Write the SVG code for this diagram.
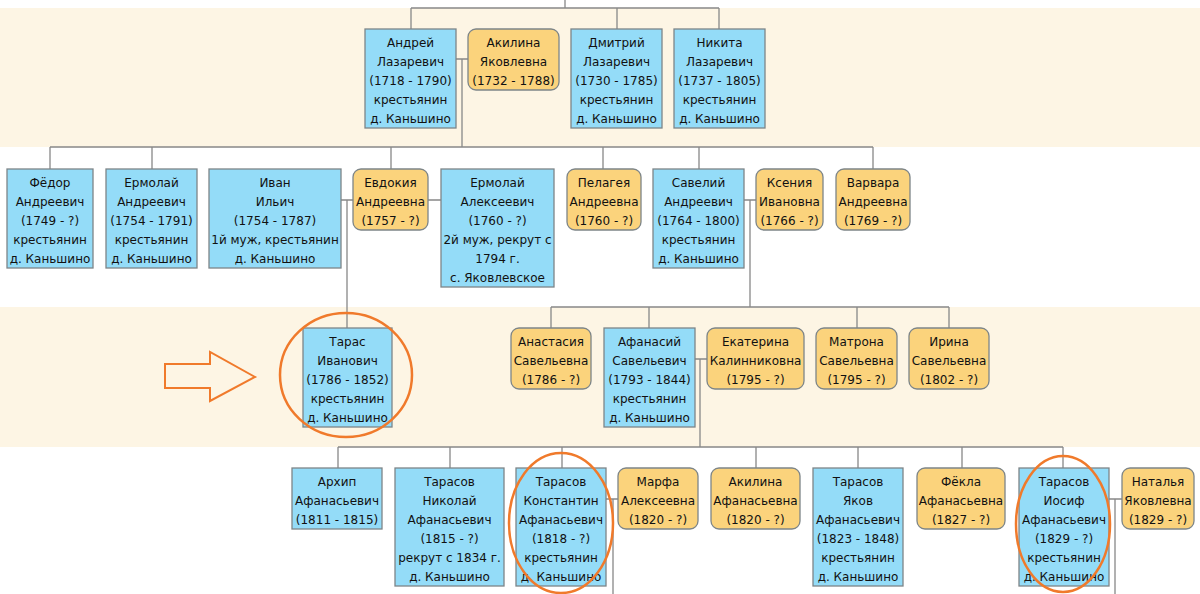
<svg xmlns="http://www.w3.org/2000/svg" width="1200" height="594" viewBox="0 0 1200 594">
<style>
.band{fill:#fdf5e4}
.m{fill:#94dcf8;stroke:#7d8588;stroke-width:1.3}
.f{fill:#fbd37c;stroke:#7d8588;stroke-width:1.3}
.c{fill:none;stroke:#888;stroke-width:1.3}
.hl{fill:none;stroke:#f07a2b;stroke-width:2.5}
text{font-family:"DejaVu Sans","Liberation Sans",sans-serif;font-size:12px;fill:#111;text-anchor:middle}
</style>
<rect class="band" x="0" y="8" width="1200" height="139"/>
<rect class="band" x="0" y="307" width="1200" height="140"/>
<g id="connectors">
<path class="c" d="M565 0V8M411 8H719M411 8V29M617 8V29M719 8V29"/>
<path class="c" d="M456 59H468M462 59V147M50 147H873M50 147V169M152 147V169M391 147V169M603 147V169M699 147V169M873 147V169"/>
<path class="c" d="M341 200H353M347 200V328M428 200H441M744 200H756M750 200V307"/>
<path class="c" d="M551 307H949M551 307V328M649 307V328M857 307V328M949 307V328"/>
<path class="c" d="M695 359H707M700 359V447M338 447H1063M338 447V468M450 447V468M562 447V468M756 447V468M858 447V468M962 447V468M1063 447V468"/>
<path class="c" d="M606 499H618M613 499V594M1109 499H1122M1115 499V594"/>
</g>
<g id="n-andrey"><rect class="m" x="365" y="29" width="91" height="99"/><text x="410.5" y="47">Андрей</text><text x="410.5" y="66">Лазаревич</text><text x="410.5" y="85">(1718 - 1790)</text><text x="410.5" y="104">крестьянин</text><text x="410.5" y="123">д. Каньшино</text></g>
<g id="n-akilina1"><rect class="f" x="468" y="29" width="91" height="61" rx="8"/><text x="513.5" y="47">Акилина</text><text x="513.5" y="66">Яковлевна</text><text x="513.5" y="85">(1732 - 1788)</text></g>
<g id="n-dmitry"><rect class="m" x="571" y="29" width="91" height="99"/><text x="616.5" y="47">Дмитрий</text><text x="616.5" y="66">Лазаревич</text><text x="616.5" y="85">(1730 - 1785)</text><text x="616.5" y="104">крестьянин</text><text x="616.5" y="123">д. Каньшино</text></g>
<g id="n-nikita"><rect class="m" x="674" y="29" width="91" height="99"/><text x="719.5" y="47">Никита</text><text x="719.5" y="66">Лазаревич</text><text x="719.5" y="85">(1737 - 1805)</text><text x="719.5" y="104">крестьянин</text><text x="719.5" y="123">д. Каньшино</text></g>

<g id="n-fedor"><rect class="m" x="7" y="169" width="86" height="99"/><text x="50" y="187">Фёдор</text><text x="50" y="206">Андреевич</text><text x="50" y="225">(1749 - ?)</text><text x="50" y="244">крестьянин</text><text x="50" y="263">д. Каньшино</text></g>
<g id="n-ermolay1"><rect class="m" x="106" y="169" width="91" height="99"/><text x="151.5" y="187">Ермолай</text><text x="151.5" y="206">Андреевич</text><text x="151.5" y="225">(1754 - 1791)</text><text x="151.5" y="244">крестьянин</text><text x="151.5" y="263">д. Каньшино</text></g>
<g id="n-ivan"><rect class="m" x="209" y="169" width="132" height="99"/><text x="275" y="187">Иван</text><text x="275" y="206">Ильич</text><text x="275" y="225">(1754 - 1787)</text><text x="275" y="244">1й муж, крестьянин</text><text x="275" y="263">д. Каньшино</text></g>
<g id="n-evdokia"><rect class="f" x="353" y="169" width="75" height="61" rx="8"/><text x="390.5" y="187">Евдокия</text><text x="390.5" y="206">Андреевна</text><text x="390.5" y="225">(1757 - ?)</text></g>
<g id="n-ermolay2"><rect class="m" x="441" y="169" width="113" height="118"/><text x="497.5" y="187">Ермолай</text><text x="497.5" y="206">Алексеевич</text><text x="497.5" y="225">(1760 - ?)</text><text x="497.5" y="244">2й муж, рекрут с</text><text x="497.5" y="263">1794 г.</text><text x="497.5" y="282">с. Яковлевское</text></g>
<g id="n-pelageya"><rect class="f" x="567" y="169" width="74" height="61" rx="8"/><text x="604" y="187">Пелагея</text><text x="604" y="206">Андреевна</text><text x="604" y="225">(1760 - ?)</text></g>
<g id="n-saveliy"><rect class="m" x="653" y="169" width="91" height="99"/><text x="698.5" y="187">Савелий</text><text x="698.5" y="206">Андреевич</text><text x="698.5" y="225">(1764 - 1800)</text><text x="698.5" y="244">крестьянин</text><text x="698.5" y="263">д. Каньшино</text></g>
<g id="n-kseniya"><rect class="f" x="756" y="169" width="67" height="61" rx="8"/><text x="789.5" y="187">Ксения</text><text x="789.5" y="206">Ивановна</text><text x="789.5" y="225">(1766 - ?)</text></g>
<g id="n-varvara"><rect class="f" x="836" y="169" width="74" height="61" rx="8"/><text x="873" y="187">Варвара</text><text x="873" y="206">Андреевна</text><text x="873" y="225">(1769 - ?)</text></g>

<g id="n-taras"><rect class="m" x="303" y="328" width="89" height="99"/><text x="347.5" y="346">Тарас</text><text x="347.5" y="365">Иванович</text><text x="347.5" y="384">(1786 - 1852)</text><text x="347.5" y="403">крестьянин</text><text x="347.5" y="422">д. Каньшино</text></g>
<g id="n-anastasia"><rect class="f" x="511" y="328" width="80" height="61" rx="8"/><text x="551" y="346">Анастасия</text><text x="551" y="365">Савельевна</text><text x="551" y="384">(1786 - ?)</text></g>
<g id="n-afanasiy"><rect class="m" x="604" y="328" width="91" height="99"/><text x="649.5" y="346">Афанасий</text><text x="649.5" y="365">Савельевич</text><text x="649.5" y="384">(1793 - 1844)</text><text x="649.5" y="403">крестьянин</text><text x="649.5" y="422">д. Каньшино</text></g>
<g id="n-ekaterina"><rect class="f" x="707" y="328" width="97" height="61" rx="8"/><text x="755.5" y="346">Екатерина</text><text x="755.5" y="365">Калинниковна</text><text x="755.5" y="384">(1795 - ?)</text></g>
<g id="n-matrona"><rect class="f" x="816" y="328" width="81" height="61" rx="8"/><text x="856.5" y="346">Матрона</text><text x="856.5" y="365">Савельевна</text><text x="856.5" y="384">(1795 - ?)</text></g>
<g id="n-irina"><rect class="f" x="909" y="328" width="80" height="61" rx="8"/><text x="949" y="346">Ирина</text><text x="949" y="365">Савельевна</text><text x="949" y="384">(1802 - ?)</text></g>

<g id="n-arkhip"><rect class="m" x="292" y="468" width="90" height="61"/><text x="337" y="486">Архип</text><text x="337" y="505">Афанасьевич</text><text x="337" y="524">(1811 - 1815)</text></g>
<g id="n-nikolay"><rect class="m" x="395" y="468" width="109" height="118"/><text x="449.5" y="486">Тарасов</text><text x="449.5" y="505">Николай</text><text x="449.5" y="524">Афанасьевич</text><text x="449.5" y="543">(1815 - ?)</text><text x="449.5" y="562">рекрут с 1834 г.</text><text x="449.5" y="581">д. Каньшино</text></g>
<g id="n-konstantin"><rect class="m" x="516" y="468" width="90" height="118"/><text x="561" y="486">Тарасов</text><text x="561" y="505">Константин</text><text x="561" y="524">Афанасьевич</text><text x="561" y="543">(1818 - ?)</text><text x="561" y="562">крестьянин</text><text x="561" y="581">д. Каньшино</text></g>
<g id="n-marfa"><rect class="f" x="618" y="468" width="80" height="61" rx="8"/><text x="658" y="486">Марфа</text><text x="658" y="505">Алексеевна</text><text x="658" y="524">(1820 - ?)</text></g>
<g id="n-akilina2"><rect class="f" x="711" y="468" width="89" height="61" rx="8"/><text x="755.5" y="486">Акилина</text><text x="755.5" y="505">Афанасьевна</text><text x="755.5" y="524">(1820 - ?)</text></g>
<g id="n-yakov"><rect class="m" x="813" y="468" width="90" height="118"/><text x="858" y="486">Тарасов</text><text x="858" y="505">Яков</text><text x="858" y="524">Афанасьевич</text><text x="858" y="543">(1823 - 1848)</text><text x="858" y="562">крестьянин</text><text x="858" y="581">д. Каньшино</text></g>
<g id="n-fekla"><rect class="f" x="917" y="468" width="88" height="61" rx="8"/><text x="961" y="486">Фёкла</text><text x="961" y="505">Афанасьевна</text><text x="961" y="524">(1827 - ?)</text></g>
<g id="n-iosif"><rect class="m" x="1019" y="468" width="90" height="118"/><text x="1064" y="486">Тарасов</text><text x="1064" y="505">Иосиф</text><text x="1064" y="524">Афанасьевич</text><text x="1064" y="543">(1829 - ?)</text><text x="1064" y="562">крестьянин</text><text x="1064" y="581">д. Каньшино</text></g>
<g id="n-natalya"><rect class="f" x="1122" y="468" width="72" height="61" rx="8"/><text x="1158" y="486">Наталья</text><text x="1158" y="505">Яковлевна</text><text x="1158" y="524">(1829 - ?)</text></g>

<g id="highlights">
<polygon points="165,364 210,364 210,352 255,377 210,401 210,388 165,388" fill="#fdf5e4" stroke="#f07a2b" stroke-width="2"/>
<ellipse class="hl" cx="346" cy="375" rx="66" ry="62"/>
<ellipse class="hl" cx="561" cy="523" rx="52" ry="70"/>
<ellipse class="hl" cx="1063" cy="524" rx="47" ry="68"/>
</g>
</svg>
